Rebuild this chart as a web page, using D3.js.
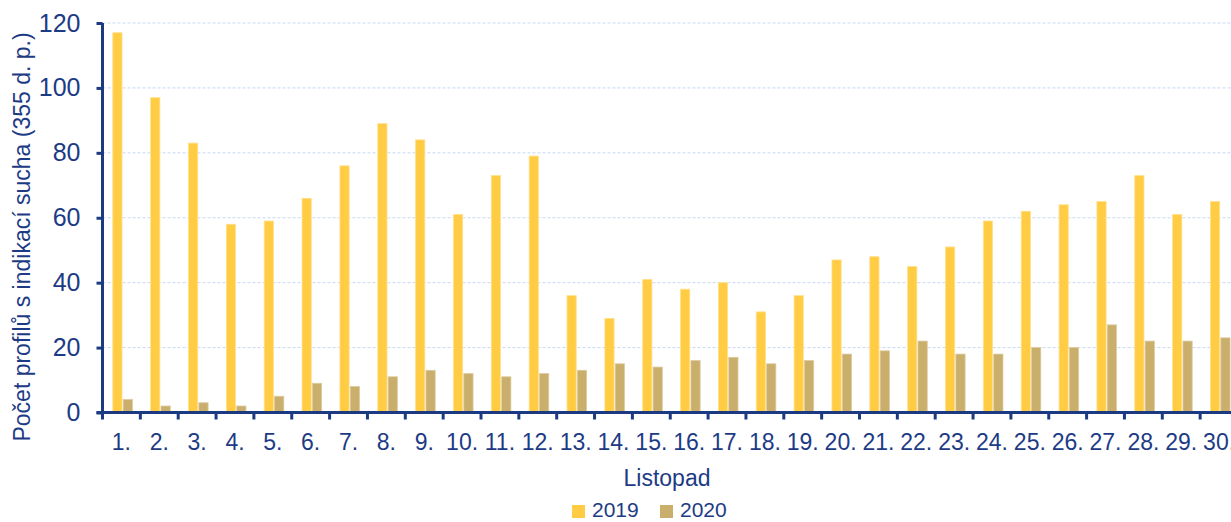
<!DOCTYPE html>
<html><head><meta charset="utf-8">
<script src="https://cdn.jsdelivr.net/npm/d3@7"></script>
<style>body{margin:0;background:#fff;overflow:hidden}svg{display:block;font-family:"Liberation Sans",Arial,sans-serif}</style>
</head><body>
<svg id="c" width="1231" height="522"></svg>
<script>
const categories = ["1.","2.","3.","4.","5.","6.","7.","8.","9.","10.","11.","12.","13.","14.","15.","16.","17.","18.","19.","20.","21.","22.","23.","24.","25.","26.","27.","28.","29.","30."];
const series = ["2019","2020"];
const values2019 = [117,97,83,58,59,66,76,89,84,61,73,79,36,29,41,38,40,31,36,47,48,45,51,59,62,64,65,73,61,65];
const values2020 = [4,2,3,2,5,9,8,11,13,12,11,12,13,15,14,16,17,15,16,18,19,22,18,18,20,20,27,22,22,23];
const yTicks = [0,20,40,60,80,100,120];
const colors = {"2019":"#FFCC44","2020":"#C9AE6C"};
const strokes = {"2019":"#FFE08E","2020":"#DCCB9E"};
const textCol = "#1d3b85";
const axisCol = "#1b3a82";

(function(){
const svg = d3.select("#c");
const left = 102.5, bottom = 412.5, topY = 23;
const bandW = 37.85;
const x0 = d3.scaleBand().domain(categories).range([left, left + bandW*categories.length]).padding(0);
const x1 = d3.scaleBand().domain(series).range([10.3, 29.9]).paddingInner(0.11);
const y = d3.scaleLinear().domain([0,120]).range([bottom, topY]);

// gridlines
svg.append("g").selectAll("line").data(yTicks.filter(d=>d>0)).join("line")
  .attr("x1", left).attr("x2", 1231).attr("y1", d=>y(d)).attr("y2", d=>y(d))
  .attr("stroke","#c6d8f2").attr("stroke-width",1).attr("stroke-dasharray","3,2");

// bars
const data = categories.map((c,i)=>({c, v:{"2019":values2019[i],"2020":values2020[i]}}));
const g = svg.append("g").selectAll("g").data(data).join("g")
  .attr("transform", d=>`translate(${x0(d.c)},0)`);
g.selectAll("rect").data(d=>series.map(s=>({s, v:d.v[s]}))).join("rect")
  .attr("x", d=>x1(d.s)).attr("width", x1.bandwidth())
  .attr("y", d=>y(d.v)).attr("height", d=>bottom - y(d.v))
  .attr("fill", d=>colors[d.s]).attr("stroke", d=>strokes[d.s]).attr("stroke-width",0.8);

// x axis
const xa = svg.append("g").attr("transform",`translate(0,${bottom})`)
  .call(d3.axisBottom(x0).tickSize(0).tickPadding(0));
xa.select(".domain").remove();
xa.selectAll("text").attr("y", 37).attr("dy", null).attr("font-size", 23).attr("fill", textCol)
  .attr("font-family","Liberation Sans, Arial, sans-serif");
const bounds = categories.map(c=>x0(c));
svg.append("g").selectAll("line").data(bounds).join("line")
  .attr("x1", d=>d).attr("x2", d=>d).attr("y1", bottom).attr("y2", bottom+7)
  .attr("stroke", axisCol).attr("stroke-width",3);
svg.append("line").attr("x1", left-6).attr("x2", 1231).attr("y1", bottom).attr("y2", bottom)
  .attr("stroke", axisCol).attr("stroke-width",3);

// y axis
const ya = svg.append("g").attr("transform",`translate(${left},0)`)
  .call(d3.axisLeft(y).tickValues(yTicks).tickSize(6).tickPadding(16).tickFormat(d3.format("d")));
ya.select(".domain").attr("stroke", axisCol).attr("stroke-width",3).attr("d", `M0,${topY}V${bottom}`);
ya.selectAll(".tick line").attr("stroke", axisCol).attr("stroke-width",3);
ya.selectAll("text").attr("font-size", 25).attr("fill", textCol)
  .attr("font-family","Liberation Sans, Arial, sans-serif");

// axis titles
svg.append("text").attr("transform","translate(30,237) rotate(-90)").attr("text-anchor","middle")
  .attr("font-size",23).attr("fill",textCol).text("Počet profilů s indikací sucha (355 d. p.)");
svg.append("text").attr("x",667).attr("y",486).attr("text-anchor","middle")
  .attr("font-size",23).attr("fill",textCol).text("Listopad");

// legend
const leg = svg.append("g");
const legX = [572, 660];
series.forEach((s,i)=>{
  leg.append("rect").attr("x",legX[i]).attr("y",505).attr("width",13).attr("height",13).attr("fill",colors[s]);
  leg.append("text").attr("x",legX[i]+20).attr("y",517).attr("font-size",21).attr("fill",textCol).text(s);
});
})();
</script>
</body></html>
